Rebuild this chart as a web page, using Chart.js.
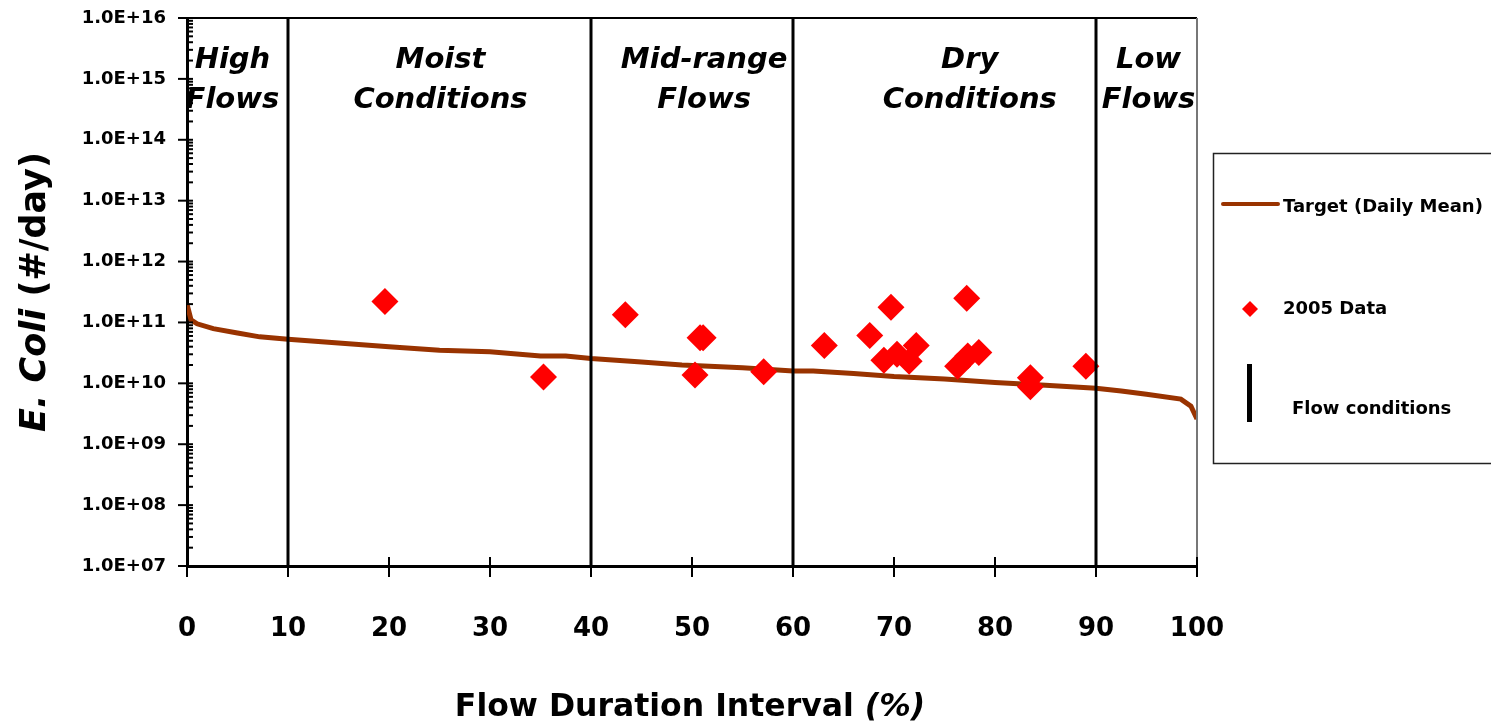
<!DOCTYPE html>
<html>
<head>
<meta charset="utf-8">
<script src="https://cdn.jsdelivr.net/npm/chart.js@4"></script>
<style>
  html, body { margin: 0; padding: 0; background: #fff; }
  #wrap { position: relative; width: 1491px; height: 728px; }
</style>
</head>
<body>
<div id="wrap"><canvas id="flowChart" width="1491" height="728"></canvas></div>
<script>
// Target load duration curve (daily mean)
var targetX = [0, 0.4, 1, 2.6, 5, 7.2, 10, 15, 20, 25, 30, 35, 37.5, 40, 45, 49, 55, 60, 62, 66, 70, 75, 80, 85, 90, 92.5, 95, 98.4, 99.4, 100];
var targetY = [2.0e11, 1.1e11, 9.5e10, 7.9e10, 6.7e10, 5.8e10, 5.3e10, 4.6e10, 4.0e10, 3.5e10, 3.3e10, 2.8e10, 2.8e10, 2.55e10, 2.25e10, 2.0e10, 1.8e10, 1.6e10, 1.6e10, 1.45e10, 1.29e10, 1.18e10, 1.03e10, 9.3e9, 8.3e9, 7.5e9, 6.6e9, 5.5e9, 4.2e9, 2.6e9];

// 2005 sample loads
var dataX = [19.6, 35.3, 43.4, 50.3, 50.8, 51.1, 57.1, 63.1, 67.6, 69.0, 69.7, 70.3, 71.5, 72.2, 76.3, 77.2, 77.3, 78.4, 83.5, 83.5, 89.0];
var dataY = [2.2e11, 1.27e10, 1.34e11, 1.37e10, 5.6e10, 5.6e10, 1.55e10, 4.2e10, 6.1e10, 2.4e10, 1.78e11, 3.0e10, 2.3e10, 4.2e10, 1.9e10, 2.5e11, 2.8e10, 3.2e10, 1.23e10, 8.8e9, 1.9e10];

// Flow condition boundaries and zone labels
var flowBounds = [10, 40, 60, 90];
var zoneNames = [['High', 'Flows'], ['Moist', 'Conditions'], ['Mid-range', 'Flows'], ['Dry', 'Conditions'], ['Low', 'Flows']];
var zoneX = [4.5, 25.1, 51.2, 77.5, 95.2];

var xTicks = [0, 10, 20, 30, 40, 50, 60, 70, 80, 90, 100];
var yTicks = [1e7, 1e8, 1e9, 1e10, 1e11, 1e12, 1e13, 1e14, 1e15, 1e16];

var FONT = '"Comic Sans MS", "DejaVu Sans", sans-serif';

function pts(xs, ys) {
    return xs.map(function(x, i) { return { x: x, y: ys[i] }; });
}

var datasets = [{
    label: 'Target (Daily Mean)',
    data: pts(targetX, targetY),
    showLine: true,
    borderColor: '#993300',
    borderWidth: 5,
    pointRadius: 0,
    tension: 0,
    order: 3
}, {
    label: '2005 Data',
    data: pts(dataX, dataY),
    showLine: false,
    pointStyle: 'rectRot',
    pointRadius: 13.5,
    pointBackgroundColor: '#ff0000',
    pointBorderWidth: 0,
    order: 2
}];

flowBounds.forEach(function(b) {
    datasets.push({
        label: 'Flow conditions',
        data: [{ x: b, y: yTicks[0] }, { x: b, y: yTicks[yTicks.length - 1] }],
        showLine: true,
        borderColor: '#000',
        borderWidth: 3,
        pointRadius: 0,
        order: 1
    });
});

// frame, tick marks, zone labels, axis titles and legend
var decorPlugin = {
    id: 'decor',
    afterDraw: function(chart) {
        var ctx = chart.ctx;
        var a = chart.chartArea;
        var xs = chart.scales.x, ys = chart.scales.y;
        ctx.save();

        // top and right frame
        ctx.strokeStyle = '#000';
        ctx.lineWidth = 2;
        ctx.beginPath();
        ctx.moveTo(a.left, a.top);
        ctx.lineTo(a.right, a.top);
        ctx.stroke();
        ctx.strokeStyle = '#777';
        ctx.beginPath();
        ctx.moveTo(a.right, a.top);
        ctx.lineTo(a.right, a.bottom);
        ctx.stroke();

        // y tick marks (major out, minor in)
        ctx.strokeStyle = '#000';
        ctx.lineWidth = 2;
        for (var e = 7; e <= 16; e++) {
            var py = ys.getPixelForValue(Math.pow(10, e));
            ctx.beginPath();
            ctx.moveTo(a.left - 9, py);
            ctx.lineTo(a.left + 6, py);
            ctx.stroke();
            if (e < 16) {
                for (var k = 2; k <= 9; k++) {
                    var my = ys.getPixelForValue(k * Math.pow(10, e));
                    ctx.beginPath();
                    ctx.moveTo(a.left - 1, my);
                    ctx.lineTo(a.left + 6, my);
                    ctx.stroke();
                }
            }
        }
        // x tick marks (cross)
        xTicks.forEach(function(v) {
            var px = xs.getPixelForValue(v);
            ctx.beginPath();
            ctx.moveTo(px, a.bottom - 9);
            ctx.lineTo(px, a.bottom + 11);
            ctx.stroke();
        });

        // zone labels
        ctx.fillStyle = '#000';
        ctx.textAlign = 'center';
        ctx.textBaseline = 'middle';
        ctx.font = 'italic bold 29px ' + FONT;
        zoneNames.forEach(function(lines, i) {
            var px = xs.getPixelForValue(zoneX[i]);
            ctx.fillText(lines[0], px, 60);
            ctx.fillText(lines[1], px, 100);
        });

        // x axis title
        ctx.textBaseline = 'middle';
        ctx.textAlign = 'left';
        var t1 = 'Flow Duration Interval ', t2 = '(%)';
        ctx.font = 'bold 31.5px ' + FONT;
        var w1 = ctx.measureText(t1).width;
        ctx.font = 'italic bold 31.5px ' + FONT;
        var w2 = ctx.measureText(t2).width;
        var sx = 690 - (w1 + w2) / 2;
        ctx.font = 'bold 31.5px ' + FONT;
        ctx.fillText(t1, sx, 708);
        ctx.font = 'italic bold 31.5px ' + FONT;
        ctx.fillText(t2, sx + w1, 708);

        // y axis title
        ctx.save();
        ctx.translate(36, 292);
        ctx.rotate(-Math.PI / 2);
        var y1 = 'E. Coli ', y2 = '(#/day)';
        ctx.font = 'italic bold 35px ' + FONT;
        var v1 = ctx.measureText(y1).width;
        ctx.font = 'bold 35px ' + FONT;
        var v2 = ctx.measureText(y2).width;
        var sy = -(v1 + v2) / 2;
        ctx.font = 'italic bold 35px ' + FONT;
        ctx.fillText(y1, sy, 0);
        ctx.font = 'bold 35px ' + FONT;
        ctx.fillText(y2, sy + v1, 0);
        ctx.restore();

        // legend box
        ctx.strokeStyle = '#222';
        ctx.lineWidth = 1.5;
        ctx.strokeRect(1213.5, 153.5, 300, 310);
        ctx.font = 'bold 18px ' + FONT;
        ctx.textAlign = 'left';
        ctx.textBaseline = 'middle';
        // target
        ctx.strokeStyle = '#993300';
        ctx.lineWidth = 4;
        ctx.lineCap = 'round';
        ctx.beginPath();
        ctx.moveTo(1223, 204);
        ctx.lineTo(1278, 204);
        ctx.stroke();
        ctx.fillText('Target (Daily Mean)', 1283, 207);
        // data marker
        ctx.fillStyle = '#ff0000';
        ctx.beginPath();
        ctx.moveTo(1250, 301);
        ctx.lineTo(1258, 309);
        ctx.lineTo(1250, 317);
        ctx.lineTo(1242, 309);
        ctx.closePath();
        ctx.fill();
        ctx.fillStyle = '#000';
        ctx.fillText('2005 Data', 1283, 309);
        // flow conditions
        ctx.fillRect(1247, 364, 5, 58);
        ctx.fillText('Flow conditions', 1292, 409);
        ctx.restore();
    }
};

window.onload = function() {
    var ctxFlow = document.getElementById('flowChart').getContext('2d');
    var flowChart = new Chart(ctxFlow, {
        type: 'scatter',
        data: { datasets: datasets },
        options: {
            responsive: false,
            animation: false,
            layout: { padding: { left: 0, right: 294, top: 18, bottom: 0 } },
            plugins: {
                legend: { display: false },
                tooltip: { enabled: false }
            },
            scales: {
                x: {
                    type: 'linear',
                    min: 0,
                    max: 100,
                    afterBuildTicks: function(scale) {
                        scale.ticks = xTicks.map(function(v) { return { value: v }; });
                    },
                    afterFit: function(scale) {
                        scale.height = 162;
                        scale.paddingLeft = 0;
                        scale.paddingRight = 0;
                    },
                    grid: { display: false, drawTicks: false },
                    border: { display: true, color: '#000', width: 3 },
                    ticks: {
                        color: '#000',
                        font: { family: FONT, size: 26, weight: 'bold' },
                        padding: 48,
                        maxRotation: 0
                    }
                },
                y: {
                    type: 'logarithmic',
                    min: 1e7,
                    max: 1e16,
                    afterBuildTicks: function(scale) {
                        scale.ticks = yTicks.map(function(v) { return { value: v }; });
                    },
                    afterFit: function(scale) {
                        scale.width = 187;
                        scale.paddingTop = 0;
                        scale.paddingBottom = 0;
                    },
                    grid: { display: false, drawTicks: false },
                    border: { display: true, color: '#000', width: 3 },
                    ticks: {
                        color: '#000',
                        autoSkip: false,
                        font: { family: FONT, size: 18, weight: 'bold' },
                        padding: 21,
                        callback: function(v) {
                            var e = Math.round(Math.log10(v));
                            return '1.0E+' + (e < 10 ? '0' : '') + e;
                        }
                    }
                }
            }
        },
        plugins: [decorPlugin]
    });
};
</script>
</body>
</html>
